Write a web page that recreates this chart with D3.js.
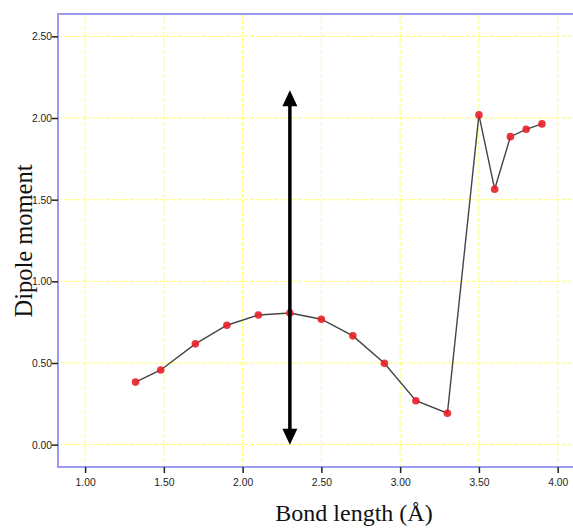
<!DOCTYPE html>
<html><head><meta charset="utf-8">
<script src="https://cdn.jsdelivr.net/npm/d3@7"></script>
<style>body{margin:0;background:#fff;}svg{display:block;}</style>
</head><body>
<svg id="c" width="573" height="528"></svg>
<script>
const bondLength = [1.32,1.48,1.70,1.90,2.10,2.30,2.50,2.70,2.90,3.10,3.30,3.50,3.60,3.70,3.80,3.90];
const dipole =     [0.383,0.457,0.617,0.731,0.794,0.806,0.768,0.666,0.498,0.269,0.192,2.019,1.564,1.886,1.931,1.964];
const xTicks = [1.00,1.50,2.00,2.50,3.00,3.50,4.00];
const yTicks = [0.00,0.50,1.00,1.50,2.00,2.50];
const arrowX = 2.30, arrowTop = 2.17, arrowBottom = 0.0;
const xLabel = "Bond length (Å)", yLabel = "Dipole moment";

const svg = d3.select("#c");
const L=58, T=14, R=575, B=467;
const x = d3.scaleLinear().domain([0.828, 4.11]).range([L, R]);
const y = d3.scaleLinear().domain([-0.137, 2.637]).range([B, T]);

// grid
const g = svg.append("g");
g.selectAll("line.gx").data(xTicks).join("line")
  .attr("x1",d=>x(d)).attr("x2",d=>x(d)).attr("y1",T).attr("y2",B)
  .attr("stroke","#ffff66").attr("stroke-width",1).attr("stroke-dasharray","4,2");
g.selectAll("line.gy").data(yTicks).join("line")
  .attr("y1",d=>y(d)).attr("y2",d=>y(d)).attr("x1",L).attr("x2",R)
  .attr("stroke","#ffff66").attr("stroke-width",1).attr("stroke-dasharray","4,2");

// frame
svg.append("path").attr("d",`M${R},${T}H${L}V${B}H${R}`)
  .attr("fill","none").attr("stroke","#9a9af0").attr("stroke-width",2);

// axes
const xa = svg.append("g").attr("transform",`translate(0,${B})`)
  .call(d3.axisBottom(x).tickValues(xTicks).tickFormat(d3.format(".2f")).tickSize(6).tickSizeOuter(0));
const ya = svg.append("g").attr("transform",`translate(${L},0)`)
  .call(d3.axisLeft(y).tickValues(yTicks).tickFormat(d3.format(".2f")).tickSize(6).tickSizeOuter(0));
[xa,ya].forEach(a=>{
  a.select(".domain").remove();
  a.selectAll("text").attr("font-family","Liberation Sans, Arial, sans-serif").attr("font-size",10.3).attr("fill","#222");
  a.selectAll(".tick line").attr("stroke","#222").attr("stroke-width",1.5);
});
xa.selectAll("text").attr("dy","1.0em");
ya.selectAll("text").attr("x",-6).attr("dy","0.35em");

// line
const pts = bondLength.map((v,i)=>[v,dipole[i]]);
svg.append("path").datum(pts)
  .attr("d", d3.line().x(d=>x(d[0])).y(d=>y(d[1])))
  .attr("fill","none").attr("stroke","#444").attr("stroke-width",1.4);
svg.selectAll("circle").data(pts).join("circle")
  .attr("cx",d=>x(d[0])).attr("cy",d=>y(d[1])).attr("r",3.8)
  .attr("fill","#e8202a").attr("fill-opacity",0.9);

// double arrow
const ax = x(arrowX), yt = y(arrowTop), yb = y(arrowBottom);
svg.append("line").attr("x1",ax).attr("x2",ax).attr("y1",yt+12).attr("y2",yb-12)
  .attr("stroke","#000").attr("stroke-width",3.5);
svg.append("path").attr("d",`M${ax},${yt}L${ax-7.5},${yt+16}L${ax+7.5},${yt+16}Z`).attr("fill","#000");
svg.append("path").attr("d",`M${ax},${yb}L${ax-7.5},${yb-16}L${ax+7.5},${yb-16}Z`).attr("fill","#000");

// titles
svg.append("text").attr("x",354).attr("y",521).attr("text-anchor","middle")
  .attr("font-family","Liberation Serif, Times New Roman, serif").attr("font-size",24).attr("fill","#111").text(xLabel);
svg.append("text").attr("transform","translate(32,241) rotate(-90)").attr("text-anchor","middle")
  .attr("font-family","Liberation Serif, Times New Roman, serif").attr("font-size",24.5).attr("fill","#111").text(yLabel);
</script>
</body></html>
